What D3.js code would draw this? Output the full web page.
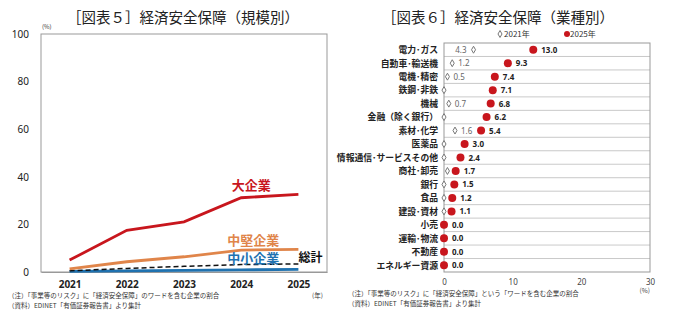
<!DOCTYPE html>
<html>
<head>
<meta charset="utf-8">
<script src="https://cdn.jsdelivr.net/npm/d3@7"></script>
<style>
body { margin: 0; background: #fff; }
svg { font-family: "Noto Sans CJK JP", "Noto Sans", sans-serif; }
</style>
</head>
<body>
<div id="chart"></div>
<script>
// 図表5: 規模別
const years = ["2021", "2022", "2023", "2024", "2025"];
const large = [5.0, 17.5, 21.1, 31.2, 32.6];
const middle = [1.3, 4.3, 6.4, 9.2, 9.5];
const small = [0.3, 0.5, 0.7, 0.9, 1.1];
const total = [0.5, 1.5, 2.4, 3.1, 3.4];
const yTicks5 = [0, 20, 40, 60, 80, 100];

// 図表6: 業種別
const industries = ["電力･ガス", "自動車･輸送機", "電機･精密", "鉄鋼･非鉄", "機械", "金融（除く銀行）",
  "素材･化学", "医薬品", "情報通信･サービスその他", "商社･卸売", "銀行", "食品", "建設･資材",
  "小売", "運輸･物流", "不動産", "エネルギー資源"];
const val2021 = [4.3, 1.2, 0.5, 0, 0.7, 0, 1.6, 0, 0, 0.5, 0, 0, 0, 0, 0, 0, 0];
const val2025 = [13.0, 9.3, 7.4, 7.1, 6.8, 6.2, 5.4, 3.0, 2.4, 1.7, 1.5, 1.2, 1.1, 0, 0, 0, 0];
const labeled2021 = ["電力･ガス", "自動車･輸送機", "電機･精密", "機械", "素材･化学"];
const xTicks6 = [0, 10, 20, 30];

const svg = d3.select("#chart").append("svg").attr("width", 680).attr("height", 325);

const red = "#c8161d", orange = "#e0854a", blue = "#1f72b0";

// ---- left chart ----
const x5 = d3.scalePoint().domain(years).range([41, 327]).padding(0.5);
const y5 = d3.scaleLinear().domain([0, 100]).range([272, 34]);

svg.append("text").attr("x", 183).attr("y", 23).attr("text-anchor", "middle")
  .attr("font-size", 14.5).attr("fill", "#222").text("［図表５］経済安全保障（規模別）");

svg.append("rect").attr("x", 41).attr("y", 34).attr("width", 286).attr("height", 238)
  .attr("fill", "none").attr("stroke", "#999").attr("stroke-width", 1);

const yAxis5 = svg.append("g").attr("transform", "translate(41,0)")
  .call(d3.axisLeft(y5).tickValues(yTicks5).tickSize(0).tickPadding(12));
yAxis5.select(".domain").remove();
yAxis5.selectAll("text").attr("font-size", 10).attr("fill", "#222").attr("font-family", "Noto Sans, sans-serif");

const xAxis5 = svg.append("g").attr("transform", "translate(0,272)")
  .call(d3.axisBottom(x5).tickSize(0).tickPadding(9));
xAxis5.select(".domain").attr("stroke", "#999");
xAxis5.selectAll("text").attr("font-size", 10).attr("font-weight", "bold").attr("fill", "#222")
  .attr("font-family", "Noto Sans, sans-serif");

svg.append("text").attr("x", 42).attr("y", 29).attr("font-size", 6).attr("fill", "#333").text("(%)");
svg.append("text").attr("x", 312).attr("y", 298).attr("font-size", 6.5).attr("fill", "#333").text("(年)");

const line5 = d3.line().x((d, i) => x5(years[i])).y(d => y5(d));

svg.append("path").datum(small).attr("d", line5).attr("fill", "none")
  .attr("stroke", blue).attr("stroke-width", 2.8);
svg.append("path").datum(total).attr("d", line5).attr("fill", "none")
  .attr("stroke", "#111").attr("stroke-width", 1.5).attr("stroke-dasharray", "5,3");
svg.append("path").datum(middle).attr("d", line5).attr("fill", "none")
  .attr("stroke", orange).attr("stroke-width", 2.8);
svg.append("path").datum(large).attr("d", line5).attr("fill", "none")
  .attr("stroke", red).attr("stroke-width", 2.8);

svg.append("text").attr("x", x5("2024") + 10).attr("y", y5(large[3]) - 8).attr("text-anchor", "middle")
  .attr("font-size", 13).attr("font-weight", "bold").attr("fill", red).text("大企業");
svg.append("text").attr("x", x5("2024") + 12).attr("y", y5(middle[3]) - 5).attr("text-anchor", "middle")
  .attr("font-size", 13).attr("font-weight", "bold").attr("fill", orange).text("中堅企業");
svg.append("text").attr("x", x5("2024") + 12).attr("y", y5(total[3]) - 2).attr("text-anchor", "middle")
  .attr("font-size", 13).attr("font-weight", "bold").attr("fill", blue).text("中小企業");
svg.append("text").attr("x", x5("2025")).attr("y", y5(total[4]) - 2)
  .attr("font-size", 12).attr("font-weight", "bold").attr("fill", "#111").text("総計");

svg.append("text").attr("x", 8).attr("y", 298).attr("font-size", 6.5).attr("fill", "#333")
  .text("（注）「事業等のリスク」に「経済安全保障」のワードを含む企業の割合");
svg.append("text").attr("x", 8).attr("y", 308).attr("font-size", 6.5).attr("fill", "#333")
  .text("（資料）EDINET「有価証券報告書」より集計");

// ---- right chart ----
const x6 = d3.scaleLinear().domain([0, 30]).range([444, 650]);
const y6 = d3.scaleBand().domain(industries).range([43, 272]);

svg.append("text").attr("x", 498).attr("y", 23).attr("text-anchor", "middle")
  .attr("font-size", 14.5).attr("fill", "#222").text("［図表６］経済安全保障（業種別）");

// legend
svg.append("path").attr("d", d3.symbol(d3.symbolDiamond, 14)())
  .attr("transform", "translate(500,34)").attr("fill", "#fff").attr("stroke", "#777").attr("stroke-width", 1);
svg.append("text").attr("x", 504).attr("y", 37).attr("font-size", 8).attr("fill", "#333").text("2021年");
svg.append("circle").attr("cx", 567).attr("cy", 34).attr("r", 3).attr("fill", red);
svg.append("text").attr("x", 570).attr("y", 37).attr("font-size", 8).attr("fill", "#333").text("2025年");

// row separators
svg.append("g").selectAll("line").data(industries.slice(1)).join("line")
  .attr("x1", 444).attr("x2", 650)
  .attr("y1", d => y6(d)).attr("y2", d => y6(d))
  .attr("stroke", "#bbb").attr("stroke-width", 0.8);

svg.append("rect").attr("x", 444).attr("y", 43).attr("width", 206).attr("height", 229)
  .attr("fill", "none").attr("stroke", "#999").attr("stroke-width", 1);

const xAxis6 = svg.append("g").attr("transform", "translate(0,272)")
  .call(d3.axisBottom(x6).tickValues(xTicks6).tickSize(0).tickPadding(7));
xAxis6.select(".domain").remove();
xAxis6.selectAll("text").attr("font-size", 8).attr("fill", "#444").attr("font-family", "Noto Sans, sans-serif");
svg.append("text").attr("x", 650).attr("y", 293).attr("text-anchor", "end")
  .attr("font-size", 6.5).attr("fill", "#444").text("(%)");

svg.append("g").selectAll("text").data(industries).join("text")
  .attr("x", 438).attr("y", d => y6(d) + y6.bandwidth() / 2 + 3.3)
  .attr("text-anchor", "end").attr("font-size", 8.8).attr("font-weight", "bold").attr("fill", "#222")
  .text(d => d);

const rows = industries.map((name, i) => ({ name, v21: val2021[i], v25: val2025[i] }));
const cy = d => y6(d.name) + y6.bandwidth() / 2;

// 2021 markers
svg.append("g").selectAll("path").data(rows).join("path")
  .attr("d", d3.symbol(d3.symbolDiamond, 14)())
  .attr("transform", d => `translate(${x6(d.v21)},${cy(d)})`)
  .attr("fill", "#fff").attr("stroke", "#777").attr("stroke-width", 1);

// the first row's label sits left of its marker
svg.append("g").selectAll("text").data(rows.filter(d => labeled2021.includes(d.name))).join("text")
  .attr("x", d => d.name === industries[0] ? x6(d.v21) - 7 : x6(d.v21) + 6)
  .attr("y", d => cy(d) + 3)
  .attr("text-anchor", d => d.name === industries[0] ? "end" : "start")
  .attr("font-size", 8).attr("fill", "#666").attr("font-family", "Noto Sans, sans-serif")
  .text(d => d.v21.toFixed(1));

// 2025 markers
svg.append("g").selectAll("circle").data(rows).join("circle")
  .attr("cx", d => x6(d.v25)).attr("cy", cy).attr("r", 4)
  .attr("fill", red);

svg.append("g").selectAll("text").data(rows).join("text")
  .attr("x", d => x6(d.v25) + 8).attr("y", d => cy(d) + 3)
  .attr("font-size", 8).attr("font-weight", "bold").attr("fill", "#222")
  .attr("font-family", "Noto Sans, sans-serif")
  .text(d => d.v25.toFixed(1));

svg.append("text").attr("x", 348).attr("y", 296).attr("font-size", 6.5).attr("fill", "#333")
  .text("（注）「事業等のリスク」に「経済安全保障」という「ワードを含む企業の割合");
svg.append("text").attr("x", 348).attr("y", 306).attr("font-size", 6.5).attr("fill", "#333")
  .text("（資料）EDINET「有価証券報告書」より集計");
</script>
</body>
</html>
